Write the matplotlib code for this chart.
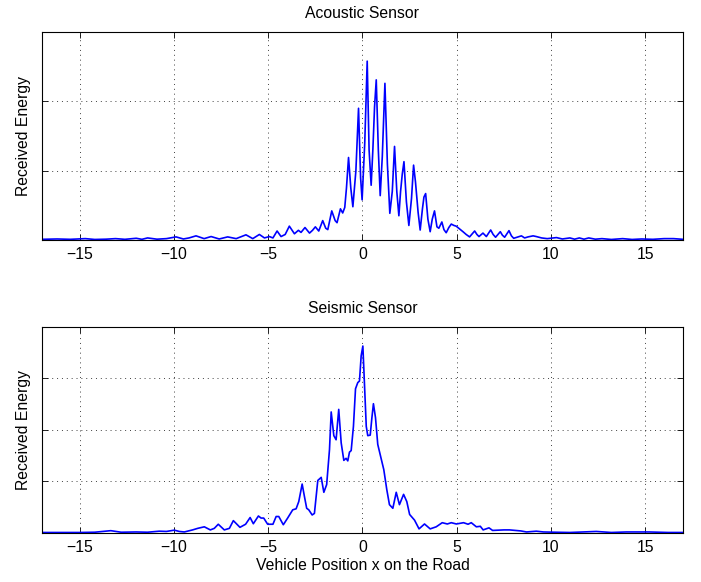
import matplotlib
matplotlib.use("Agg")
import matplotlib.pyplot as plt
from matplotlib.ticker import FixedLocator, NullFormatter

plt.rcParams['font.family'] = ['Liberation Sans', 'DejaVu Sans']
plt.rcParams['axes.unicode_minus'] = True

# ---- Acoustic sensor (top) ----
acoustic_x = [-17, -16.2, -15.5, -14.7, -14.2, -13.6, -13.1, -12.6, -12.0, -11.7, -11.4, -10.9, -10.4,
              -9.89, -9.5, -9.2, -8.83, -8.4, -8.03, -7.6, -7.15, -6.7, -6.18, -5.82, -5.47, -5.2, -4.94,
              -4.75, -4.53, -4.32, -4.1, -3.88, -3.61, -3.40, -3.26, -3.05, -2.81, -2.65, -2.50, -2.32,
              -2.11, -1.95, -1.84, -1.63, -1.45, -1.35, -1.17, -1.05, -0.94, -0.85, -0.74, -0.62, -0.51,
              -0.35, -0.21, -0.1, -0.02, 0.12, 0.25, 0.35, 0.46, 0.55, 0.64, 0.73, 0.84, 0.94, 1.05, 1.19,
              1.32, 1.45, 1.58, 1.70, 1.82, 1.93, 2.02, 2.11, 2.20, 2.33, 2.46, 2.6, 2.71, 2.81, 2.95, 3.06,
              3.18, 3.26, 3.35, 3.47, 3.59, 3.70, 3.82, 3.95, 4.05, 4.21, 4.32, 4.44, 4.58, 4.71, 4.85, 4.97,
              5.15, 5.33, 5.5, 5.68, 5.82, 5.95, 6.07, 6.18, 6.39, 6.57, 6.80, 6.93, 7.06, 7.31, 7.42, 7.54,
              7.77, 7.9, 8.02, 8.2, 8.43, 8.6, 8.78, 9.05, 9.22, 9.5, 9.8, 10.29, 10.6, 11.0, 11.25, 11.5,
              11.75, 12.0, 12.35, 12.7, 13.2, 13.8, 14.3, 14.8, 15.4, 16.0, 16.5, 17]
acoustic_y = [0.01, 0.015, 0.01, 0.02, 0.008, 0.012, 0.02, 0.01, 0.025, 0.01, 0.03, 0.012, 0.02,
              0.045, 0.015, 0.03, 0.06, 0.02, 0.05, 0.015, 0.045, 0.02, 0.075, 0.02, 0.08, 0.03, 0.05,
              0.03, 0.13, 0.05, 0.08, 0.2, 0.09, 0.14, 0.11, 0.18, 0.1, 0.14, 0.19, 0.13,
              0.28, 0.17, 0.15, 0.42, 0.28, 0.25, 0.45, 0.39, 0.47, 0.75, 1.19, 0.75, 0.48,
              1.0, 1.90, 0.9, 0.58, 1.4, 2.58, 1.3, 0.79, 1.3, 1.92, 2.31, 1.3, 0.64, 1.2, 2.26,
              1.1, 0.385, 0.7, 1.35, 0.7, 0.35, 0.7, 0.95, 1.13, 0.55, 0.21, 0.6, 1.08, 0.84, 0.4, 0.144,
              0.45, 0.62, 0.67, 0.3, 0.12, 0.3, 0.42, 0.19, 0.17, 0.26, 0.15, 0.105, 0.18, 0.23, 0.21, 0.2,
              0.16, 0.12, 0.08, 0.045, 0.09, 0.13, 0.08, 0.05, 0.1, 0.05, 0.145, 0.08, 0.04, 0.12, 0.07, 0.04,
              0.135, 0.06, 0.025, 0.04, 0.06, 0.03, 0.045, 0.06, 0.05, 0.03, 0.02, 0.035, 0.015, 0.03, 0.012, 0.03,
              0.012, 0.03, 0.012, 0.02, 0.008, 0.02, 0.008, 0.015, 0.01, 0.02, 0.02, 0.01]

# ---- Seismic sensor (bottom) ----
seismic_x = [-17, -16, -15, -14.2, -13.35, -12.8, -12.0, -11.4, -10.78, -10.4, -9.98, -9.72, -9.45,
             -9.01, -8.74, -8.39, -8.07, -7.86, -7.65, -7.33, -7.06, -6.85, -6.5, -6.2, -5.96, -5.79,
             -5.52, -5.38, -5.24, -5.03, -4.75, -4.58, -4.44, -4.2, -3.97, -3.70, -3.52, -3.38, -3.20,
             -3.08, -2.96, -2.85, -2.67, -2.55, -2.37, -2.19, -2.05, -1.90, -1.75, -1.66, -1.52, -1.40,
             -1.26, -1.13, -0.99, -0.87, -0.78, -0.69, -0.60, -0.48, -0.37, -0.25, -0.16, -0.07, 0.02,
             0.11, 0.2, 0.28, 0.41, 0.50, 0.58, 0.69, 0.81, 0.96, 1.13, 1.29, 1.43, 1.61, 1.79, 1.96,
             2.18, 2.35, 2.50, 2.76, 3.0, 3.29, 3.59, 3.91, 4.23, 4.5, 4.71, 4.98, 5.36, 5.6, 5.77, 6.04,
             6.25, 6.4, 6.71, 6.9, 7.5, 7.8, 8.4, 8.7, 9.22, 9.6, 10.2, 11.0, 12.4, 13.2, 14.0, 15.2,
             16.2, 17]
seismic_y = [0.01, 0.01, 0.01, 0.015, 0.045, 0.015, 0.02, 0.015, 0.035, 0.03, 0.055, 0.03, 0.02,
             0.06, 0.09, 0.12, 0.06, 0.09, 0.17, 0.06, 0.09, 0.24, 0.11, 0.17, 0.3, 0.18,
             0.33, 0.29, 0.29, 0.17, 0.17, 0.32, 0.32, 0.16, 0.29, 0.45, 0.47, 0.61, 0.95,
             0.71, 0.48, 0.45, 0.35, 0.38, 1.02, 1.08, 0.79, 0.94, 1.62, 2.35, 1.89, 1.81,
             2.40, 1.75, 1.41, 1.45, 1.40, 1.57, 1.6, 2.07, 2.80, 2.92, 2.95, 3.44, 3.63,
             2.85, 2.07, 1.89, 1.9, 2.24, 2.51, 2.24, 1.72, 1.49, 1.23, 0.84, 0.55, 0.48, 0.79, 0.55,
             0.75, 0.61, 0.36, 0.25, 0.08, 0.175, 0.08, 0.12, 0.2, 0.175, 0.2, 0.175, 0.2, 0.17, 0.2, 0.12,
             0.13, 0.06, 0.1, 0.05, 0.06, 0.06, 0.04, 0.02, 0.035, 0.02, 0.015, 0.01, 0.03, 0.01, 0.02, 0.02,
             0.01, 0.01]

x_ticks = [-15, -10, -5, 0, 5, 10, 15]
x_tick_labels = ['\u221215', '\u221210', '\u22125', '0', '5', '10', '15']

titles = ['Acoustic Sensor', 'Seismic Sensor']
y_label = 'Received Energy'
x_label = 'Vehicle Position x on the Road'

FS = 11.3

fig = plt.figure(figsize=(7.01, 5.82), dpi=100)
ax1 = fig.add_axes([0.0599, 0.5876, 0.9144, 0.3574])
ax2 = fig.add_axes([0.0599, 0.0842, 0.9144, 0.3540])

configs = [(ax1, acoustic_x, acoustic_y, 3, [0, 1, 2, 3]),
           (ax2, seismic_x, seismic_y, 4, [0, 1, 2, 3, 4])]

for i, (ax, xs, ys, ymax, yt) in enumerate(configs):
    ax.plot(xs, ys, color=(0, 0, 1), lw=1.2)
    ax.set_xlim(-17, 17)
    ax.set_ylim(0, ymax)
    ax.xaxis.set_major_locator(FixedLocator(x_ticks))
    ax.set_xticklabels(x_tick_labels)
    ax.yaxis.set_major_locator(FixedLocator(yt))
    ax.yaxis.set_major_formatter(NullFormatter())
    ax.tick_params(direction='in', length=4, width=0.6, top=True, right=True,
                   labelsize=FS, colors='black', pad=5)
    ax.grid(True, linestyle=(0, (1, 4)), color='black', linewidth=0.7, alpha=0.75)
    for s in ax.spines.values():
        s.set_linewidth(0.8)
    ax.set_title(titles[i], fontsize=FS, pad=10)
    ax.set_ylabel(y_label, fontsize=FS, labelpad=3)

ax2.set_xlabel(x_label, fontsize=FS, labelpad=2)

fig.savefig('out.png', dpi=100)
